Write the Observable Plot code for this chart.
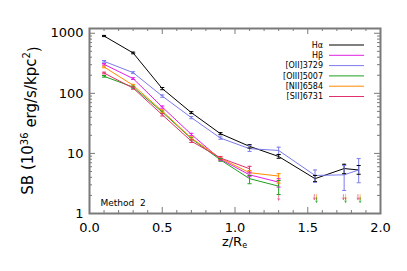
<!DOCTYPE html>
<html><head><meta charset="utf-8">
<script src="https://cdn.jsdelivr.net/npm/d3@7"></script>
<script src="https://cdn.jsdelivr.net/npm/@observablehq/plot@0.6"></script>
<style>body{margin:0;background:#fff} svg{display:block}</style>
</head><body><div id="chart"></div>
<script>
// ---- data ----
const seriesNames = ["Hα","Hβ","[OII]3729","[OIII]5007","[NII]6584","[SII]6731"];
const seriesColors = ["#000000","#e020e0","#7b7bec","#1fa01f","#ff8a00","#e0306a"];

const xHa  = [0.1,0.3,0.5,0.7,0.9,1.1,1.3,1.55,1.75,1.85];
const yHa  = [900,470,120,47.7,21.3,13.1,8.9,3.8,5.6,5.3];
const loHa = [880,455,115,46,20.5,12.3,8.3,3.4,4.6,4.5];
const hiHa = [920,485,125,49.5,22.2,14.0,9.6,4.3,6.6,6.3];

const xHb  = [0.1,0.3,0.5,0.7,0.9,1.1,1.3];
const yHb  = [304,176,59,20.7,8.0,4.4,3.33];
const loHb = [295,170,56.5,19.8,7.6,4.1,2.75];
const hiHb = [313,182,61.5,21.6,8.4,4.75,3.8];

const xOII  = [0.1,0.3,0.5,0.7,0.9,1.1,1.3,1.55,1.75,1.85];
const yOII  = [341,221,90,39.4,18.0,12.0,11.2,4.3,4.4,5.3];
const loOII = [330,213,86,37.8,17.2,10.8,9.6,3.3,2.42,3.25];
const hiOII = [352,229,94,41,18.8,13.6,12.7,5.3,6.3,8.2];

const xOIII  = [0.1,0.3,0.5,0.7,0.9,1.1,1.3];
const yOIII  = [192,127,48.8,17.6,7.8,3.8,2.85];
const loOIII = [186,122,46.5,16.8,7.4,3.13,2.07];
const hiOIII = [198,132,51,18.4,8.2,4.3,3.55];

const xNII  = [0.1,0.3,0.5,0.7,0.9,1.1,1.3];
const yNII  = [275,136,50.8,18.0,8.3,4.77,4.2];
const loNII = [266,131,48.5,17.2,7.9,4.3,3.2];
const hiNII = [284,141,53,18.8,8.7,5.2,4.6];

const xSII  = [0.1,0.3,0.5,0.7,0.9,1.1];
const ySII  = [218,122,44,16,8.4,5.56];
const loSII = [211,117,42,15.2,7.9,4.9];
const hiSII = [225,127,46,16.8,8.9,6.1];

// upper limits (arrows)
const limSeries = ["[SII]6731","[SII]6731","[NII]6584","[OIII]5007","[SII]6731","[NII]6584","[OIII]5007","[SII]6731","[NII]6584","[OIII]5007"];
const limX      = [1.3,1.545,1.56,1.56,1.745,1.76,1.76,1.845,1.86,1.86];
const limY      = [1.85,1.9,1.9,1.7,1.9,1.9,1.7,1.9,1.9,1.7];

const xMajor = [0,0.5,1,1.5,2];
const xMinor = d3.range(1,20).map(i=>i/10).filter(v=>Math.abs(v*2-Math.round(v*2))>1e-9);
const yMajor = [1,10,100,1000];
const yMinor = [2,3,4,5,6,7,8,9,20,30,40,50,60,70,80,90,200,300,400,500,600,700,800,900];
const methodLabel = "Method  2";

// ---- build table ----
const table = [];
function add(name, xs, ys, lo, hi){ xs.forEach((x,i)=>table.push({series:name,x,y:ys[i],lo:lo[i],hi:hi[i]})); }
add("Hα", xHa, yHa, loHa, hiHa);
add("Hβ", xHb, yHb, loHb, hiHb);
add("[OII]3729", xOII, yOII, loOII, hiOII);
add("[OIII]5007", xOIII, yOIII, loOIII, hiOIII);
add("[NII]6584", xNII, yNII, loNII, hiNII);
add("[SII]6731", xSII, ySII, loSII, hiSII);
const limits = limX.map((x,i)=>({series:limSeries[i],x,y:limY[i]}));

const W=407, H=271, ML=89, MR=27, MT=28, MB=58;
const FW=W-ML-MR, FH=H-MT-MB;
const axisColor="#7a7a7a";
const cap=0.014;

const plot = Plot.plot({
  width:W, height:H, marginLeft:ML, marginRight:MR, marginTop:MT, marginBottom:MB,
  style:{fontFamily:"DejaVu Sans", fontSize:"13px", background:"#fff", color:"#000"},
  x:{domain:[0,2]},
  y:{type:"log", domain:[1,1200]},
  color:{domain:seriesNames, range:seriesColors},
  marks:[
    // ticks (inward)
    Plot.tickX(xMajor,{x:d=>d, insetTop:FH-6, stroke:axisColor}),
    Plot.tickX(xMajor,{x:d=>d, insetBottom:FH-6, stroke:axisColor}),
    Plot.tickX(xMinor,{x:d=>d, insetTop:FH-3, stroke:axisColor}),
    Plot.tickX(xMinor,{x:d=>d, insetBottom:FH-3, stroke:axisColor}),
    Plot.tickY(yMajor,{y:d=>d, insetRight:FW-6, stroke:axisColor}),
    Plot.tickY(yMajor,{y:d=>d, insetLeft:FW-6, stroke:axisColor}),
    Plot.tickY(yMinor,{y:d=>d, insetRight:FW-3, stroke:axisColor}),
    Plot.tickY(yMinor,{y:d=>d, insetLeft:FW-3, stroke:axisColor}),
    Plot.axisX({ticks:xMajor, tickSize:0, tickPadding:9, tickFormat:d3.format(".1f"), label:null, fontSize:13}),
    Plot.axisY({ticks:yMajor, tickSize:0, tickPadding:6, tickFormat:d=>String(d), label:null, fontSize:13}),
    // data
    Plot.line(table,{x:"x", y:"y", z:"series", stroke:"series", strokeWidth:1}),
    Plot.ruleX(table,{x:"x", y1:"lo", y2:"hi", stroke:"series", strokeWidth:1}),
    Plot.link(table,{x1:d=>d.x-cap, x2:d=>d.x+cap, y1:"lo", y2:"lo", stroke:"series", strokeWidth:1}),
    Plot.link(table,{x1:d=>d.x-cap, x2:d=>d.x+cap, y1:"hi", y2:"hi", stroke:"series", strokeWidth:1}),
    Plot.arrow(limits,{x:"x", y1:d=>d.y*1.09, y2:d=>d.y*0.9, stroke:"series", strokeWidth:1, headLength:2.5, strokeOpacity:0.6}),
    Plot.frame({stroke:axisColor, strokeWidth:2}),
    Plot.text([methodLabel],{text:d=>d, frameAnchor:"bottom-left", dx:11, dy:-8, textAnchor:"start", fontSize:9, fill:"#000"})
  ]
});
document.getElementById("chart").appendChild(plot);

const svg = d3.select(plot);
// legend
const lg = svg.append("g").attr("font-family","DejaVu Sans").attr("font-size",8).attr("fill","#000");
seriesNames.forEach((n,i)=>{
  const y = 45 + i*10.3;
  lg.append("text").attr("x",323).attr("y",y).attr("dy","0.35em").attr("text-anchor","end").attr("fill","#000").text(n);
  lg.append("line").attr("x1",329).attr("x2",364).attr("y1",y).attr("y2",y).attr("stroke",seriesColors[i]).attr("stroke-width",1);
});
// y label
const yl = svg.append("text").attr("font-family","DejaVu Sans").attr("font-size",15).attr("fill","#000")
  .attr("text-anchor","middle").attr("transform",`translate(33,${MT+FH/2}) rotate(-90)`);
yl.append("tspan").text("SB (10");
yl.append("tspan").attr("font-size",10).attr("dy","-0.55em").text("36");
yl.append("tspan").attr("dy","0.55em").text(" erg/s/kpc");
yl.append("tspan").attr("font-size",10).attr("dy","-0.55em").text("2");
yl.append("tspan").attr("dy","0.55em").text(")");
// x label
const xl = svg.append("text").attr("font-family","DejaVu Sans").attr("font-size",13).attr("fill","#000")
  .attr("text-anchor","middle").attr("x",ML+FW/2).attr("y",246);
xl.append("tspan").text("z/R");
xl.append("tspan").attr("font-size",8).attr("dy","0.3em").text("e");
</script>
</body></html>
